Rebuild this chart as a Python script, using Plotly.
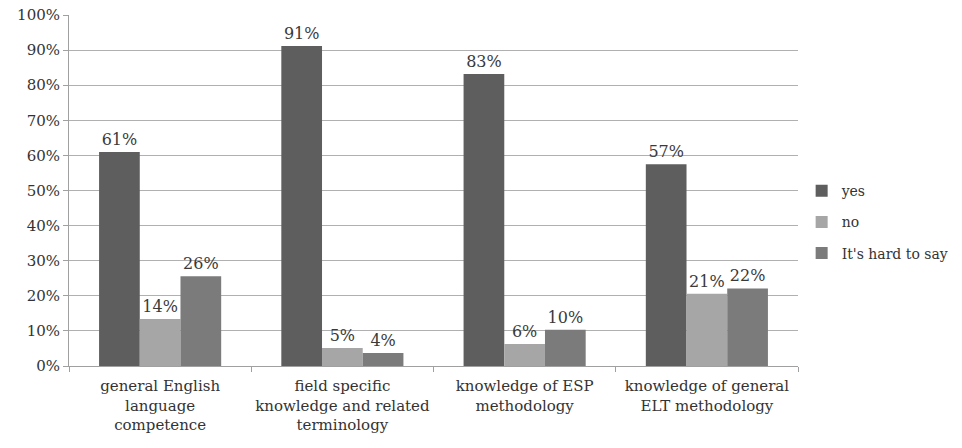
import plotly.graph_objects as go

categories = [
    "general English<br>language<br>competence",
    "field specific<br>knowledge and related<br>terminology",
    "knowledge of ESP<br>methodology",
    "knowledge of general<br>ELT methodology",
]
series_names = ["yes", "no", "It's hard to say"]
yes_vals = [61.0, 91.2, 83.2, 57.5]
no_vals = [13.4, 5.1, 6.3, 20.6]
hard_vals = [25.6, 3.7, 10.3, 22.1]
yes_labels = ["61%", "91%", "83%", "57%"]
no_labels = ["14%", "5%", "6%", "21%"]
hard_labels = ["26%", "4%", "10%", "22%"]
colors = ["#5e5e5e", "#a6a6a6", "#7b7b7b"]
y_ticks = [0, 10, 20, 30, 40, 50, 60, 70, 80, 90, 100]

FONT = "DejaVu Serif"

fig = go.Figure()
for i, (name, vals, labels) in enumerate(zip(series_names, [yes_vals, no_vals, hard_vals],
                                             [yes_labels, no_labels, hard_labels])):
    fig.add_trace(go.Bar(
        x=categories, y=vals, name=name, text=labels,
        textposition="outside", cliponaxis=False,
        textfont=dict(family=FONT, size=16, color="#3a3a3a"),
        marker=dict(color=colors[i], line=dict(width=0)),
        legendgroup=name,
    ))

fig.update_layout(
    width=962, height=448,
    margin=dict(l=69, r=164, t=15, b=82, autoexpand=False),
    paper_bgcolor="white", plot_bgcolor="white",
    barmode="group", bargap=0.33, bargroupgap=0,
    font=dict(family=FONT, size=15, color="#333333"),
    legend=dict(x=1.005, y=0.41, xanchor="left", yanchor="middle",
                font=dict(family=FONT, size=14, color="#333333"),
                tracegroupgap=10, itemwidth=30, bgcolor="rgba(0,0,0,0)"),
    showlegend=True,
)
fig.update_xaxes(
    showline=True, linecolor="#a0a0a0", linewidth=1,
    ticks="outside", tickson="boundaries", ticklen=5, tickcolor="#a0a0a0",
    tickfont=dict(family=FONT, size=15, color="#333333"), tickangle=0,
    ticklabelstandoff=6,
    showgrid=False,
)
fig.update_yaxes(
    range=[0, 100], tickvals=y_ticks, ticktext=[f"{v}%" for v in y_ticks],
    showline=True, linecolor="#a0a0a0", linewidth=1,
    ticks="outside", ticklen=5, tickcolor="#a0a0a0",
    showgrid=True, gridcolor="#b0b0b0", gridwidth=1,
    tickfont=dict(family=FONT, size=15, color="#333333"),
    zeroline=False,
)

fig.write_html("out.html")
